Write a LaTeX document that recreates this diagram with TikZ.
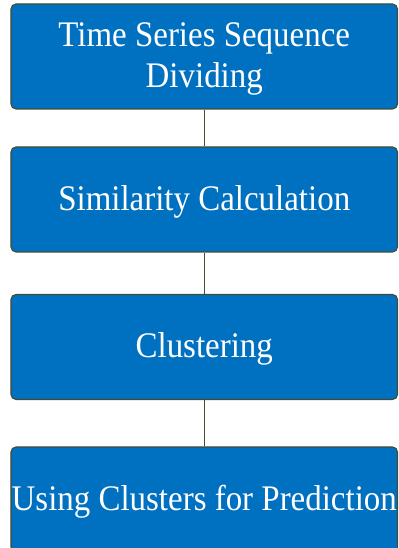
\documentclass[tikz,border=0pt]{standalone}
\usepackage{fontspec}
\setmainfont{Liberation Serif}[FakeStretch=0.915]
\definecolor{boxfill}{HTML}{0070C0}
\definecolor{boxline}{HTML}{454B33}
\begin{document}
\begin{tikzpicture}[x=1bp,y=1bp,
  stagebox/.style={draw=boxline, line width=1.1bp, fill=boxfill, rounded corners=5bp,
    minimum width=386.5bp, minimum height=105bp, inner sep=0pt},
  stagetext/.style={inner sep=0pt, align=center, text=white,
    font=\fontsize{36bp}{41bp}\selectfont},
  link/.style={draw=boxline, line width=1.1bp}]
\useasboundingbox (0,0) rectangle (398,548);
% the four stages
\node[stagebox] (b1) at (204.25,491.5) {};
\node[stagebox] (b2) at (204.25,348.5) {};
\node[stagebox] (b3) at (204.25,201) {};
\node[stagebox] (b4) at (204.25,48.5) {};
% their captions
\node[stagetext] (t1) at ([yshift=-2bp]b1.center) {Time Series Sequence\\Dividing};
\node[stagetext] (t2) at ([yshift=-2bp]b2.center) {Similarity Calculation};
\node[stagetext] (t3) at ([yshift=-2bp]b3.center) {Clustering};
\node[stagetext] (t4) at ([yshift=-2bp]b4.center) {Using Clusters for Prediction};
% connectors between consecutive stages
\draw[link] (b1.south) -- (b2.north);
\draw[link] (b2.south) -- (b3.north);
\draw[link] (b3.south) -- (b4.north);
\end{tikzpicture}
\end{document}
